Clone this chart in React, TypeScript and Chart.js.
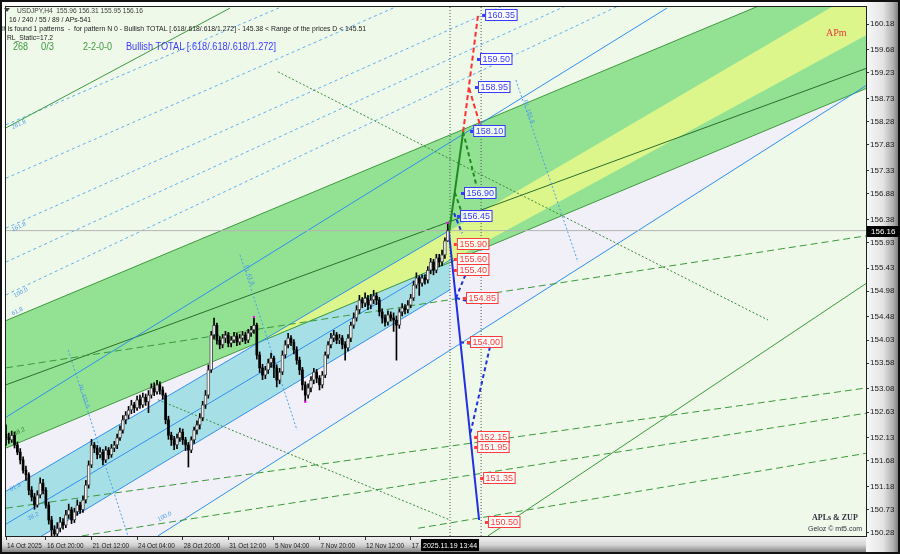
import React, { useEffect, useRef } from 'react';
import { Chart, registerables } from 'chart.js';

Chart.register(...registerables);

// ---------- candle data (H4 bars, index 0 = 14 Oct 12:00) ----------
const opens = [
  152.20,152.13,152.09,152.18,151.99,151.85,151.70,151.50,151.41,151.11,
  150.98,150.82,151.02,151.25,151.11,150.82,150.53,150.34,150.26,150.37,
  150.49,150.43,150.63,150.73,150.53,150.69,150.82,150.73,150.92,151.21,
  151.60,151.99,151.93,151.80,151.85,151.70,151.89,151.80,151.93,151.99,
  152.13,152.28,152.48,152.57,152.67,152.77,152.71,152.87,152.77,152.92,
  152.83,152.96,153.10,153.02,153.16,153.06,152.96,152.48,152.18,152.09,
  151.99,152.13,152.24,152.09,151.99,151.89,152.09,152.28,152.38,152.52,
  152.77,152.96,153.45,154.13,154.32,154.03,153.94,154.07,154.13,153.97,
  154.03,154.11,153.99,154.07,154.13,154.03,154.17,154.23,154.32,153.74,
  153.49,153.35,153.45,153.59,153.68,153.49,153.25,153.41,153.74,153.94,
  154.07,153.99,153.84,153.64,153.45,153.16,152.96,153.10,153.25,153.41,
  153.29,153.16,153.35,153.74,153.94,154.07,154.13,154.03,154.07,153.94,
  153.88,154.07,154.32,154.46,154.62,154.81,154.75,154.85,154.71,154.81,
  154.89,154.81,154.58,154.46,154.38,154.52,154.46,154.42,154.32,154.58,
  154.66,154.62,154.71,154.85,155.10,155.24,155.14,155.24,155.20,155.39,
  155.55,155.39,155.63,155.55,155.69,155.96];
const highs = [
  152.38,152.22,152.26,152.24,152.05,151.92,151.76,151.58,151.45,151.18,
  151.05,151.10,151.35,151.32,151.16,150.88,150.60,150.42,150.48,150.58,
  150.56,150.72,150.84,150.78,150.76,150.92,150.88,151.00,151.30,151.68,
  152.10,152.04,151.98,151.94,151.90,151.96,151.94,152.00,152.06,152.20,
  152.36,152.56,152.64,152.74,152.86,152.82,152.94,152.96,153.00,152.98,
  153.05,153.18,153.20,153.25,153.22,153.12,153.00,152.55,152.24,152.16,
  152.20,152.32,152.30,152.14,152.04,152.15,152.34,152.46,152.60,152.84,
  153.05,153.55,154.20,154.46,154.36,154.10,154.14,154.20,154.18,154.10,
  154.18,154.16,154.14,154.20,154.18,154.24,154.30,154.48,154.36,153.80,
  153.56,153.52,153.66,153.78,153.72,153.55,153.48,153.82,154.02,154.16,
  154.12,154.04,153.90,153.70,153.50,153.22,153.18,153.32,153.48,153.46,
  153.34,153.42,153.80,154.00,154.16,154.22,154.18,154.14,154.12,154.00,
  154.14,154.38,154.56,154.70,154.90,154.86,154.95,154.90,154.92,155.00,
  154.95,154.86,154.64,154.52,154.60,154.58,154.56,154.50,154.64,154.74,
  154.72,154.80,154.92,155.18,155.34,155.28,155.30,155.30,155.46,155.62,
  155.60,155.70,155.70,155.78,156.02,156.31];
const lows = [
  151.98,152.02,152.04,151.93,151.80,151.62,151.44,151.30,151.02,150.90,
  150.74,150.78,150.96,151.04,150.76,150.45,150.20,150.10,150.18,150.30,
  150.35,150.38,150.56,150.46,150.48,150.62,150.66,150.68,150.86,151.15,
  151.55,151.84,151.72,151.74,151.60,151.65,151.72,151.75,151.86,151.92,
  152.08,152.22,152.40,152.50,152.60,152.62,152.66,152.70,152.72,152.76,
  152.62,152.90,152.95,152.98,152.98,152.88,152.40,152.10,151.98,151.90,
  151.92,152.06,152.00,151.88,151.56,151.84,152.02,152.20,152.30,152.46,
  152.70,152.90,153.40,154.05,153.95,153.86,153.88,153.98,153.90,153.90,
  153.98,153.92,153.94,154.00,153.96,153.98,154.10,154.16,153.66,153.40,
  153.26,153.28,153.38,153.50,153.30,153.12,153.18,153.36,153.68,153.88,
  153.92,153.76,153.56,153.36,153.06,152.83,152.90,153.02,153.18,153.20,
  153.06,153.10,153.30,153.68,153.88,154.00,153.96,153.96,153.86,153.64,
  153.82,154.00,154.26,154.40,154.55,154.66,154.68,154.62,154.64,154.74,
  154.72,154.50,154.36,154.30,154.32,154.40,154.20,153.64,154.26,154.50,
  154.54,154.56,154.66,154.80,155.04,154.90,155.08,155.12,155.14,155.32,
  155.30,155.34,155.46,155.48,155.62,155.95];
const closes = [
  152.13,152.09,152.18,151.99,151.85,151.70,151.50,151.41,151.11,150.98,
  150.82,151.02,151.25,151.11,150.82,150.53,150.34,150.26,150.37,150.49,
  150.43,150.63,150.73,150.53,150.69,150.82,150.73,150.92,151.21,151.60,
  151.99,151.93,151.80,151.85,151.70,151.89,151.80,151.93,151.99,152.13,
  152.28,152.48,152.57,152.67,152.77,152.71,152.87,152.77,152.92,152.83,
  152.96,153.10,153.02,153.16,153.06,152.96,152.48,152.18,152.09,151.99,
  152.13,152.24,152.09,151.99,151.89,152.09,152.28,152.38,152.52,152.77,
  152.96,153.45,154.13,154.32,154.03,153.94,154.07,154.13,153.97,154.03,
  154.11,153.99,154.07,154.13,154.03,154.17,154.23,154.32,153.74,153.49,
  153.35,153.45,153.59,153.68,153.49,153.25,153.41,153.74,153.94,154.07,
  153.99,153.84,153.64,153.45,153.16,152.96,153.10,153.25,153.41,153.29,
  153.16,153.35,153.74,153.94,154.07,154.13,154.03,154.07,153.94,153.88,
  154.07,154.32,154.46,154.62,154.81,154.75,154.85,154.71,154.81,154.89,
  154.81,154.58,154.46,154.38,154.52,154.46,154.42,154.32,154.58,154.66,
  154.62,154.71,154.85,155.10,155.24,155.14,155.24,155.20,155.39,155.55,
  155.39,155.63,155.55,155.69,155.96,156.16];

// swing markers (bar index, price)
const swingBars = [87, 105, 155];
const swingPrices = [154.48, 152.83, 156.31];

// ---------- axes ----------
const yTicks = [160.18,159.68,159.23,158.73,158.28,157.83,157.33,156.88,156.38,155.93,
  155.43,154.98,154.48,154.03,153.58,153.08,152.63,152.13,151.68,151.18,150.73,150.28];
const xTickBars = [0, 14, 30, 46, 62, 78, 94, 110, 126, 142];
const xTickLabels = ['14 Oct 2025','16 Oct 20:00','21 Oct 12:00','24 Oct 04:00','28 Oct 20:00',
  '31 Oct 12:00','5 Nov 04:00','7 Nov 20:00','12 Nov 12:00','17 Nov 04:00'];
const lastPrice = 156.16;
const lastTimeLabel = '2025.11.19 13:44';
const lastTimeBar = 155.8;

// ---------- channel lines: [barIndex, price] end points ----------
const fanUpper = [[0, 154.41], [302, 161.41]];
const fanLower = [[0, 151.93], [302, 158.93]];
const fanInner = [[0, 153.16], [302, 159.32]];
const limeTop = [[89.8, 154.02], [153.2, 156.08], [302, 160.91]];
const limeBottom = [[89.8, 154.02], [153.2, 155.49], [302, 159.97]];
const cyanUpper = [[0, 151.09], [155.8, 156.17]];
const cyanMid = [[0, 150.45], [155.8, 155.59]];
const cyanLower = [[0, 149.80], [155.8, 155.01]];
const outerBlue = [[0, 152.53], [231.9, 160.49]];
const baseLine = [[53.3, 150.22], [302, 158.99]];
const topGreenLine = [[0, 158.16], [78.6, 160.49]];
const dashedGreenLines = [
  [[0, 153.49], [302, 156.06]],
  [[0, 150.76], [302, 153.10]],
  [[0, 149.99], [302, 152.61]],
  [[144.6, 150.37], [302, 151.83]],
];
const solidGreenLines = [[[169.1, 150.22], [302, 155.14]]];
const dottedGreenLines = [
  [[95.4, 159.25], [267.4, 154.42]],
  [[53.3, 152.87], [155.8, 150.53]],
];
const dashedBlueLines = [
  [[0, 158.22], [302, 165.39]],
  [[0, 157.18], [302, 164.54]],
  [[0, 156.21], [302, 163.70]],
  [[0, 155.55], [302, 163.21]],
  [[0, 154.91], [302, 162.81]],
];
const steepBlueLines = [
  [[178.9, 159.09], [200.7, 155.55]],
  [[82.1, 155.69], [102.1, 152.28]],
  [[21.8, 153.84], [42.8, 150.22]],
];
const verticalBars = [155.8, 166.7];

// ---------- pattern zig-zag ----------
const zigGreenSolid = [[155.1, 155.98], [160.4, 158.08]];
const zigGreenDashed = [[[160.4, 158.08], [165.1, 157.03]], [[157.5, 156.90], [160.4, 156.43]]];
const zigRedDashed = [[[160.4, 158.08], [165.6, 160.35]], [[162.5, 158.93], [166.3, 158.22]]];
const zigBlueSolid = [[155.4, 156.13], [166.0, 150.53]];
const zigBlueDashed = [
  [[157.2, 156.50], [160.0, 156.11]],
  [[157.9, 154.85], [161.4, 155.33]],
  [[157.9, 154.85], [164.9, 154.75]],
  [[159.3, 153.99], [169.8, 153.90]],
  [[169.8, 153.90], [162.8, 152.18]],
];

// price targets
const targetPrices = [160.35,159.50,158.95,158.10,156.90,156.45,155.90,155.60,155.40,154.85,154.00,152.15,151.95,151.35,150.50];
const targetBars = [167.4,165.6,164.9,163.2,160.0,158.6,157.5,157.5,157.5,160.7,162.1,164.6,164.6,166.7,168.4];
const targetIsUp = [1,1,1,1,1,1,0,0,0,0,0,0,0,0,0];

// level captions along lines: text, bar index, price, kind (0 = fan, 1 = steep RL)
const levelTexts = ['261.8', '161.8', '100.0', '61.8', '38.2', '61.8', '38.2', '100.0', 'RL 161.8', 'RL 61.8', 'RL 423.6'];
const levelBars = [2.1, 2.1, 2.8, 2.1, 2.8, 1.4, 7.7, 53.3, 182.1, 84.2, 26.0];
const levelPrices = [158.16, 156.17, 154.89, 154.54, 152.20, 151.12, 150.55, 150.53, 158.70, 155.49, 153.16];
const levelKinds = [0, 0, 0, 0, 0, 0, 0, 0, 1, 1, 1];

const headerLines = [
  'USDJPY,H4  155.96 156.31 155.95 156.16',
  '16 / 240 / 55 / 89 / APs-541',
  'It is found 1 patterns  -  for pattern N 0 - Bullish TOTAL [.618/.618/.618/1.272] - 145.38 < Range of the prices D < 145.51',
  'RL_Static=17.2',
];
const statusItems = ['268', '0/3', '2-2-0-0', 'Bullish TOTAL [.618/.618/.618/1.272]'];

const X_MIN = 0, X_MAX = 301.75;
const Y_MIN = 150.219, Y_MAX = 160.511;

const AX_FONT = "8px 'Liberation Sans', Arial, sans-serif";
const MINT = '#eff9ea';

function pts(p: number[][]) { return p.map(([x, y]) => ({ x, y })); }

function buildDatasets() {
  const ds: any[] = [];
  let ord = 1000;
  const add = (p: number[][], o: any) => {
    ds.push({ type: 'line', data: pts(p), pointRadius: 0, borderWidth: 1, tension: 0, fill: false, order: ord--, ...o });
    return ds.length - 1;
  };
  const hid = { borderWidth: 0, borderColor: 'rgba(0,0,0,0)' };
  add(fanUpper, { ...hid, fill: 'end', backgroundColor: MINT });
  add(baseLine, { ...hid, fill: 'start', backgroundColor: MINT });
  dashedBlueLines.forEach(l => add(l, { borderColor: '#62aef2', borderDash: [3, 3] }));
  const cu = add(cyanUpper, hid);
  add(cyanLower, { ...hid, fill: { target: cu }, backgroundColor: '#a6e0e6' });
  const fu = add(fanUpper, hid);
  add(fanLower, { ...hid, fill: { target: fu }, backgroundColor: '#93e193' });
  const lt = add(limeTop, hid);
  add(limeBottom, { ...hid, fill: { target: lt }, backgroundColor: '#dcf68c' });
  add(fanUpper, { borderColor: '#3f9a3f' });
  add(fanLower, { borderColor: '#3f9a3f' });
  add(fanInner, { borderColor: '#2c6f2c' });
  add(topGreenLine, { borderColor: '#3f9a3f' });
  add(cyanUpper, { borderColor: '#2f8ff0' });
  add(cyanMid, { borderColor: '#2f8ff0' });
  add(cyanLower, { borderColor: '#2f8ff0' });
  add(outerBlue, { borderColor: '#2f8ff0' });
  add(baseLine, { borderColor: '#2f8ff0' });
  steepBlueLines.forEach(l => add(l, { borderColor: '#4aa0f0', borderDash: [2, 2] }));
  dashedGreenLines.forEach(l => add(l, { borderColor: '#3a9a3a', borderDash: [7, 4] }));
  solidGreenLines.forEach(l => add(l, { borderColor: '#3a9a3a' }));
  dottedGreenLines.forEach(l => add(l, { borderColor: '#3a8a3a', borderDash: [2, 2] }));
  add([[X_MIN, lastPrice], [X_MAX, lastPrice]], { borderColor: '#b4b4b4' });
  verticalBars.forEach(v => add([[v, Y_MIN], [v, Y_MAX]], { borderColor: '#555555', borderDash: [1, 2] }));
  add(zigGreenSolid, { borderColor: '#1f8a1f', borderWidth: 2 });
  zigGreenDashed.forEach(l => add(l, { borderColor: '#1f8a1f', borderWidth: 2, borderDash: [4, 3] }));
  zigRedDashed.forEach(l => add(l, { borderColor: '#ff3030', borderWidth: 2, borderDash: [5, 3] }));
  add(zigBlueSolid, { borderColor: '#2030e0', borderWidth: 2 });
  zigBlueDashed.forEach(l => add(l, { borderColor: '#2030e0', borderWidth: 2, borderDash: [4, 3] }));
  // candles
  ds.push({ type: 'bar', data: closes.map((_, i) => ({ x: i, y: [lows[i], highs[i]] })), backgroundColor: '#000', barThickness: 1, grouped: false, order: ord-- });
  ds.push({ type: 'bar', data: closes.map((c, i) => ({ x: i, y: c >= opens[i] ? [opens[i], c] : null })).filter(d => d.y), backgroundColor: '#f4f4f4', borderColor: '#505050', borderWidth: 1, borderSkipped: false, barThickness: 3, grouped: false, order: ord-- });
  ds.push({ type: 'bar', data: closes.map((c, i) => ({ x: i, y: c < opens[i] ? [c, opens[i]] : null })).filter(d => d.y), backgroundColor: '#000', barThickness: 2, grouped: false, order: ord-- });
  ds.push({ type: 'scatter', data: swingBars.map((b, i) => ({ x: b, y: swingPrices[i] })), pointStyle: 'rect', pointRadius: 1.5, backgroundColor: '#ff00ff', borderWidth: 0, order: ord-- });
  return ds;
}

const framePlugin = {
  id: 'frame',
  beforeDraw(chart: any) {
    const { ctx, chartArea: a, width, height } = chart;
    ctx.save();
    ctx.fillStyle = '#ffffff';
    ctx.fillRect(0, 0, width, height);
    let g = ctx.createLinearGradient(a.right, 0, width, 0);
    g.addColorStop(0, '#f8f8f8'); g.addColorStop(0.5, '#e4e4e4'); g.addColorStop(0.8, '#b0b0b0'); g.addColorStop(1, '#6c6c6c');
    ctx.fillStyle = g; ctx.fillRect(a.right, 0, width - a.right, height);
    g = ctx.createLinearGradient(0, a.bottom, 0, height);
    g.addColorStop(0, '#f4f4f4'); g.addColorStop(0.5, '#d4d4d4'); g.addColorStop(1, '#6c6c6c');
    ctx.fillStyle = g; ctx.fillRect(0, a.bottom, a.right, height - a.bottom);
    ctx.fillStyle = '#f1f0f8';
    ctx.fillRect(a.left, a.top, a.right - a.left, a.bottom - a.top);
    ctx.restore();
  },
  afterDatasetsDraw(chart: any) {
    const { ctx, chartArea: a, scales } = chart;
    const xs = scales.x, ys = scales.y;
    ctx.save();
    ctx.beginPath(); ctx.rect(a.left, a.top, a.right - a.left, a.bottom - a.top); ctx.clip();
    ctx.font = "6px 'Liberation Sans', Arial, sans-serif";
    ctx.textBaseline = 'middle';
    levelTexts.forEach((t, i) => {
      const x = xs.getPixelForValue(levelBars[i]);
      const y = ys.getPixelForValue(levelPrices[i]);
      ctx.save();
      ctx.translate(x, y);
      ctx.rotate(levelKinds[i] ? 1.25 : -0.46);
      ctx.fillStyle = i === 4 ? '#2c7a2c' : '#4a9be8';
      ctx.fillText(t, 0, 0);
      ctx.restore();
    });
    ctx.restore();
  },
  afterDraw(chart: any) {
    const { ctx, chartArea: a, scales, width, height } = chart;
    const xs = scales.x, ys = scales.y;
    ctx.save();
    ctx.strokeStyle = '#202020'; ctx.lineWidth = 1;
    ctx.strokeRect(a.left - 0.5, a.top - 0.5, a.right - a.left + 1, a.bottom - a.top + 1);
    ctx.strokeStyle = '#111'; ctx.lineWidth = 2;
    ctx.strokeRect(1, 1, width - 2, height - 2);

    ctx.font = AX_FONT;
    ctx.fillStyle = '#202020';
    ctx.textBaseline = 'middle';
    xTickBars.forEach((b, i) => {
      const x = xs.getPixelForValue(b);
      const t = xTickLabels[i];
      ctx.fillText(t, x + 1, a.bottom + 10, ctx.measureText(t).width * 0.8);
    });

    ctx.font = "9px 'Liberation Sans', Arial, sans-serif";
    targetPrices.forEach((p, i) => {
      const x = xs.getPixelForValue(targetBars[i]);
      const y = Math.round(ys.getPixelForValue(p));
      const col = targetIsUp[i] ? '#3a3aff' : '#ff3a3a';
      const txt = p.toFixed(2);
      const w = ctx.measureText(txt).width + 4;
      ctx.fillStyle = col;
      ctx.fillRect(x - 1, y - 1, 3, 3);
      ctx.fillStyle = 'rgba(255,255,255,0.85)';
      ctx.fillRect(x + 2, y - 5.5, w, 11);
      ctx.strokeStyle = col; ctx.lineWidth = 1;
      ctx.strokeRect(x + 2.5, y - 5.5, w, 11);
      ctx.fillStyle = col;
      ctx.fillText(txt, x + 4.5, y + 0.5);
    });

    ctx.fillStyle = '#404040';
    ctx.font = "8px 'Liberation Sans', Arial, sans-serif";
    ctx.beginPath(); ctx.moveTo(4, 8); ctx.lineTo(10, 8); ctx.lineTo(7, 12); ctx.closePath(); ctx.fill();
    ctx.fillText(headerLines[0], 17, 10.5, 126);
    ctx.fillStyle = '#202020';
    ctx.fillText(headerLines[1], 9, 19.5, 82);
    ctx.fillText(headerLines[2], 2, 28.5, 364);
    ctx.fillText(headerLines[3], 7, 37.5, 46);
    ctx.font = "10px 'Liberation Sans', Arial, sans-serif";
    ctx.fillStyle = '#3c9a3c';
    ctx.fillText(statusItems[0], 13, 47, 15);
    ctx.fillText(statusItems[1], 41, 47, 13);
    ctx.fillText(statusItems[2], 83, 47, 29);
    ctx.fillStyle = '#3a3aff';
    ctx.fillText(statusItems[3], 126, 47, 150);

    ctx.fillStyle = '#e03a3a';
    ctx.font = "10px 'Liberation Serif', serif";
    ctx.fillText('APm', 826, 33);
    ctx.fillStyle = '#303040';
    ctx.font = "bold 8px 'Liberation Serif', serif";
    ctx.fillText('APLs & ZUP', 812, 518);
    ctx.font = "7px 'Liberation Sans', sans-serif";
    ctx.fillText('Geloz \u00a9 mt5.com', 808, 529);

    const ly = Math.round(ys.getPixelForValue(lastPrice));
    ctx.fillStyle = '#000';
    ctx.fillRect(a.right + 1, ly - 5, 33, 11);
    ctx.fillStyle = '#fff';
    ctx.font = AX_FONT;
    ctx.fillText(lastPrice.toFixed(2), a.right + 5, ly + 0.5);

    const tx = xs.getPixelForValue(lastTimeBar);
    ctx.fillStyle = '#000';
    ctx.fillRect(tx - 29, a.bottom + 3, 58, 12);
    ctx.fillStyle = '#fff';
    ctx.textAlign = 'center';
    ctx.fillText(lastTimeLabel, tx, a.bottom + 9.5, 54);
    ctx.restore();
  },
};

export default function App() {
  const ref = useRef<HTMLCanvasElement | null>(null);
  useEffect(() => {
    if (!ref.current) return;
    const chart = new Chart(ref.current, {
      type: 'bar',
      data: { datasets: buildDatasets() },
      options: {
        animation: false,
        responsive: false,
        maintainAspectRatio: false,
        layout: { padding: { left: 6, top: 7, right: 0, bottom: 0 } },
        plugins: { legend: { display: false }, tooltip: { enabled: false }, filler: { propagate: false } },
        scales: {
          x: {
            type: 'linear', min: X_MIN, max: X_MAX, offset: false,
            afterBuildTicks: (s: any) => { s.ticks = xTickBars.map(v => ({ value: v })); },
            afterFit: (s: any) => { s.height = 18; },
            ticks: { display: false, autoSkip: false, maxRotation: 0 },
            grid: { drawOnChartArea: false, tickLength: 4, color: '#303030', offset: false },
            border: { display: false },
          },
          y: {
            type: 'linear', position: 'right', min: Y_MIN, max: Y_MAX,
            afterBuildTicks: (s: any) => { s.ticks = yTicks.map(v => ({ value: v })); },
            afterFit: (s: any) => { s.width = 34; },
            ticks: {
              autoSkip: false, padding: 1, color: '#202020',
              font: { family: "'Liberation Sans', Arial, sans-serif", size: 8 },
              callback: (v: any) => Number(v).toFixed(2),
            },
            grid: { drawOnChartArea: false, tickLength: 3, color: '#303030' },
            border: { display: false },
          },
        },
      },
      plugins: [framePlugin],
    } as any);
    return () => chart.destroy();
  }, []);
  return (
    <div style={{ position: 'absolute', left: 0, top: 0, width: 900, height: 554 }}>
      <canvas ref={ref} width={900} height={554} style={{ display: 'block' }} />
    </div>
  );
}
